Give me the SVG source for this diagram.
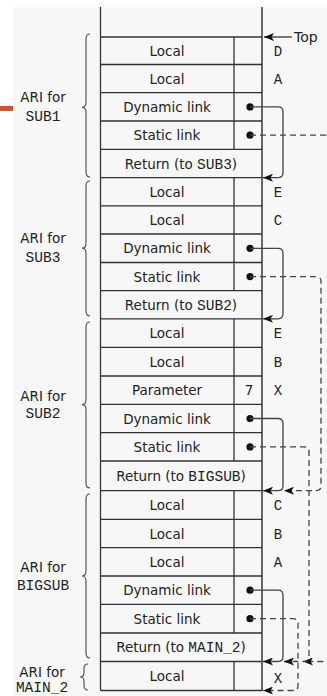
<svg xmlns="http://www.w3.org/2000/svg" width="327" height="696" viewBox="0 0 327 696">
<style>
.ln{stroke:#333;stroke-width:1.3;fill:none}
.edge{stroke:#666;stroke-width:2;fill:none}
.br{stroke:#555;stroke-width:1.2;fill:none}
.t{font-family:"DejaVu Sans",Verdana,sans-serif;font-size:13.5px;fill:#222;text-anchor:middle}
.m{font-family:"Liberation Mono","DejaVu Sans Mono",monospace;font-size:14.5px;fill:#222}
.v{font-family:"Liberation Mono","DejaVu Sans Mono",monospace;font-size:14px;fill:#222;text-anchor:middle}
.dyn{stroke:#444;stroke-width:1.3;fill:none;marker-end:url(#ah)}
.sta{stroke:#444;stroke-width:1.3;fill:none;stroke-dasharray:6 4;marker-end:url(#ah)}
.dot{fill:#111}
</style>
<defs>
<marker id="ah" markerUnits="userSpaceOnUse" markerWidth="11" markerHeight="8" refX="10" refY="4" orient="auto">
<path d="M0,0 L10,4 L0,8 L2.5,4 z" fill="#111"/>
</marker>
</defs>
<rect x="0" y="0" width="327" height="696" fill="#fff"/>
<rect x="13" y="7" width="314" height="689" fill="#f7f7f7"/>
<rect x="0" y="106" width="13" height="5" fill="#d4561f"/>

<g id="stack">
<line class="ln" x1="100.5" y1="7" x2="100.5" y2="690.5"/>
<line class="edge" x1="262" y1="7" x2="262" y2="691"/>
<path class="ln" d="M100.5,37H262 M100.5,64.5H262 M100.5,92.7H262 M100.5,121H262 M100.5,149.3H262 M100.5,177.7H262 M100.5,205.8H262 M100.5,234H262 M100.5,262.5H262 M100.5,290.7H262 M100.5,318.8H262 M100.5,347.3H262 M100.5,376H262 M100.5,404.3H262 M100.5,432.7H262 M100.5,461H262 M100.5,490.7H262 M100.5,519.3H262 M100.5,547.7H262 M100.5,576H262 M100.5,604.3H262 M100.5,633H262 M100.5,661.5H262 M100.5,690.5H262"/>
<path class="ln" d="M234,37V149.3 M234,177.7V290.7 M234,318.8V461 M234,490.7V633 M234,661.5V690.5"/>
</g>

<g id="ari-sub1">
<text class="t" x="167" y="55.7">Local</text>
<text class="t" x="167" y="83.6">Local</text>
<text class="t" x="167" y="111.8">Dynamic link</text>
<text class="t" x="167" y="140.1">Static link</text>
<text class="t" x="181" y="168.5">Return (to <tspan class="m">SUB3</tspan>)</text>
<text class="v" x="278" y="55.7">D</text>
<text class="v" x="278" y="83.6">A</text>
<circle class="dot" cx="250" cy="106.9" r="3.6"/>
<circle class="dot" cx="250" cy="135.2" r="3.6"/>
<path class="br" d="M90,34 Q86,34 86,39 V102.3 Q86,107.3 82,107.3 Q86,107.3 86,112.3 V172 Q86,177 90,177"/>
<text class="t" x="43" y="102">ARI for</text>
<text class="m" x="43" y="121" text-anchor="middle">SUB1</text>
</g>

<g id="ari-sub3">
<text class="t" x="167" y="196.7">Local</text>
<text class="t" x="167" y="224.9">Local</text>
<text class="t" x="167" y="253.2">Dynamic link</text>
<text class="t" x="167" y="281.6">Static link</text>
<text class="t" x="181" y="309.7">Return (to <tspan class="m">SUB2</tspan>)</text>
<text class="v" x="278" y="196.7">E</text>
<text class="v" x="278" y="224.9">C</text>
<circle class="dot" cx="250" cy="248.3" r="3.6"/>
<circle class="dot" cx="250" cy="276.6" r="3.6"/>
<path class="br" d="M90,181 Q86,181 86,186 V243.2 Q86,248.2 82,248.2 Q86,248.2 86,253.2 V311 Q86,316 90,316"/>
<text class="t" x="43" y="243">ARI for</text>
<text class="m" x="43" y="262" text-anchor="middle">SUB3</text>
</g>

<g id="ari-sub2">
<text class="t" x="167" y="338">Local</text>
<text class="t" x="167" y="366.6">Local</text>
<text class="t" x="167" y="395.1">Parameter</text>
<text class="t" x="167" y="423.5">Dynamic link</text>
<text class="t" x="167" y="451.8">Static link</text>
<text class="t" x="181" y="480.8">Return (to <tspan class="m">BIGSUB</tspan>)</text>
<text class="t" x="249" y="395.1">7</text>
<text class="v" x="278" y="338">E</text>
<text class="v" x="278" y="366.6">B</text>
<text class="v" x="278" y="395.1">X</text>
<circle class="dot" cx="250" cy="418.5" r="3.6"/>
<circle class="dot" cx="250" cy="446.9" r="3.6"/>
<path class="br" d="M90,322 Q86,322 86,327 V399.7 Q86,404.7 82,404.7 Q86,404.7 86,409.7 V483 Q86,488 90,488"/>
<text class="t" x="43" y="401">ARI for</text>
<text class="m" x="43" y="418" text-anchor="middle">SUB2</text>
</g>

<g id="ari-bigsub">
<text class="t" x="167" y="510">Local</text>
<text class="t" x="167" y="538.5">Local</text>
<text class="t" x="167" y="566.8">Local</text>
<text class="t" x="167" y="595.1">Dynamic link</text>
<text class="t" x="167" y="623.6">Static link</text>
<text class="t" x="181" y="652.2">Return (to <tspan class="m">MAIN_2</tspan>)</text>
<text class="v" x="278" y="510">C</text>
<text class="v" x="278" y="538.5">B</text>
<text class="v" x="278" y="566.8">A</text>
<circle class="dot" cx="250" cy="590.2" r="3.6"/>
<circle class="dot" cx="250" cy="618.7" r="3.6"/>
<path class="br" d="M90,494 Q86,494 86,499 V571 Q86,576 82,576 Q86,576 86,581 V653 Q86,658 90,658"/>
<text class="t" x="43" y="572">ARI for</text>
<text class="m" x="43" y="590" text-anchor="middle">BIGSUB</text>
</g>

<g id="ari-main2">
<text class="t" x="167" y="681">Local</text>
<text class="v" x="278" y="683">X</text>
<path class="br" d="M88,664 Q84,664 84,668.5 V673 Q84,677 80,677 Q84,677 84,681 V685.5 Q84,690 88,690"/>
<text class="t" x="42" y="677">ARI for</text>
<text class="m" x="42" y="692" text-anchor="middle">MAIN_2</text>
</g>

<g id="top-label">
<line class="ln" x1="292" y1="37" x2="264" y2="37" marker-end="url(#ah)"/>
<text x="294" y="42" font-family="DejaVu Sans,Verdana,sans-serif" font-size="14" fill="#222">Top</text>
</g>

<g id="connectors">
<path class="dyn" d="M250,106.9 H278 Q283,106.9 283,111.9 V172.7 Q283,177.7 278,177.7 H263"/>
<path class="sta" d="M250,135.2 H325 Q331,135.2 331,141 V655.5 Q331,661.5 325,661.5 H303"/>
<path class="dyn" d="M250,248.3 H278 Q283,248.3 283,253.3 V313.8 Q283,318.8 278,318.8 H263"/>
<path class="sta" d="M250,276.6 H316 Q321,276.6 321,281.6 V485.7 Q321,490.7 316,490.7 H284"/>
<path class="dyn" d="M250,418.5 H278 Q283,418.5 283,423.5 V485.7 Q283,490.7 278,490.7 H263"/>
<path class="sta" d="M250,446.9 H304 Q309,446.9 309,451.9 V656.5 Q309,661.5 304,661.5 H284"/>
<path class="dyn" d="M250,590.2 H278 Q283,590.2 283,595.2 V656.5 Q283,661.5 278,661.5 H263"/>
<path class="sta" d="M250,618.7 H293 Q298,618.7 298,623.7 V685.5 Q298,690.5 293,690.5 H263"/>
</g>
</svg>
